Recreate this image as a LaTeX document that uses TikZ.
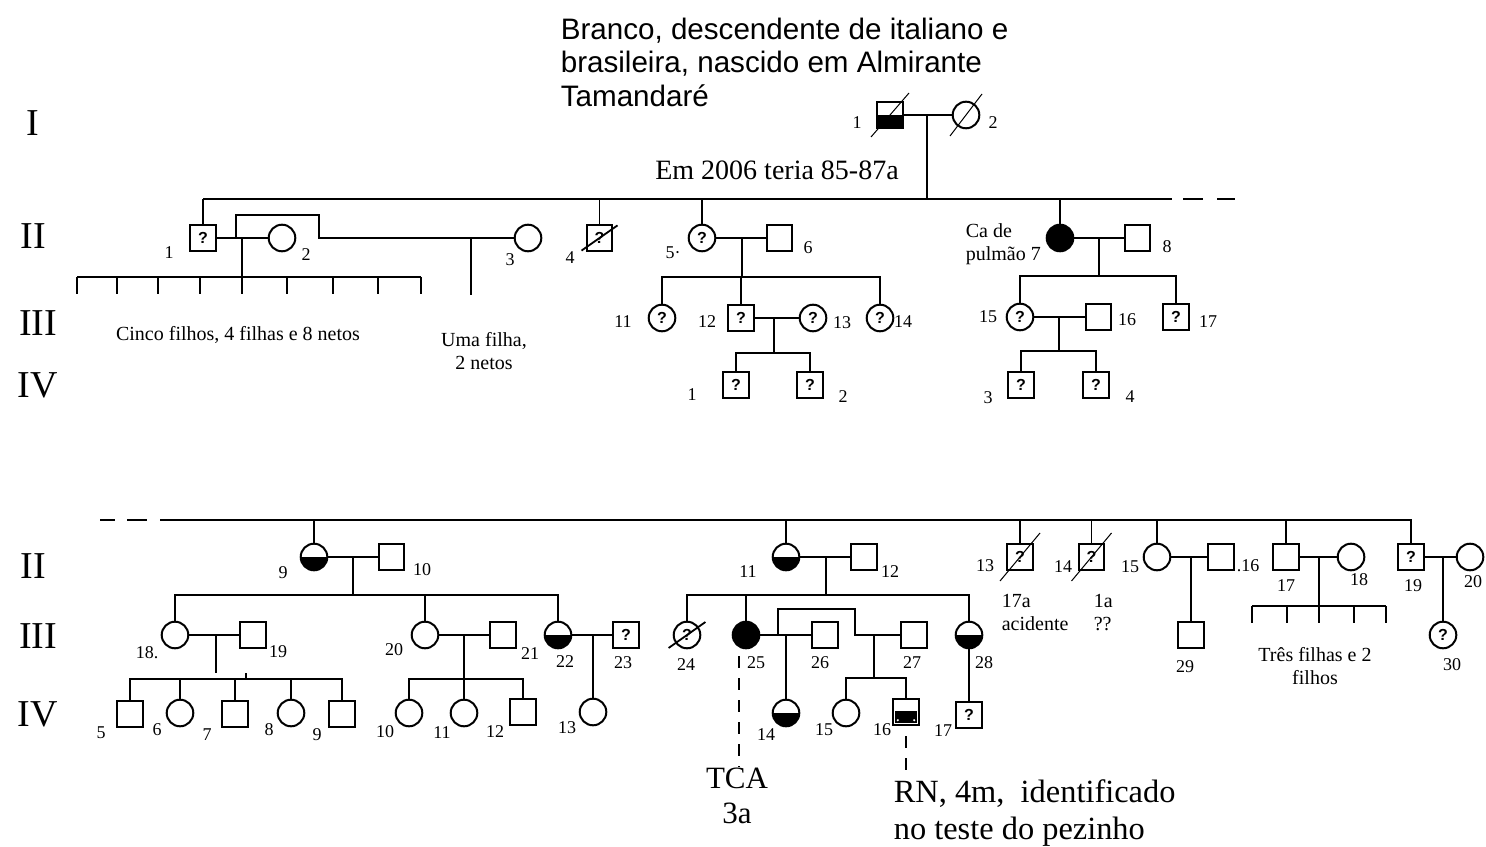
\documentclass[tikz,border=0pt]{standalone}
\usepackage{fontspec}
\setmainfont{Liberation Serif}
\newfontfamily\arialfont{Liberation Sans}
\usetikzlibrary{positioning}

\newcommand{\numfont}{\fontsize{9}{10}\selectfont}
\newcommand{\notefont}{\fontsize{10}{11.5}\selectfont}
\newcommand{\genfont}{\fontsize{19}{21}\selectfont}
\newcommand{\bigfont}{\fontsize{15.5}{17.5}\selectfont}
\newcommand{\titlefont}{\arialfont\fontsize{14.8}{17}\selectfont}
\newcommand{\qmark}{{\arialfont\bfseries\fontsize{8}{8}\selectfont ?}}
% traco de falecido: [espessura]{dx}{dy}{no}
\newcommand{\deceased}[4][line width=0.5pt]{%
  \draw[#1] ([shift={(-#2,-#3)}]#4.center) -- ([shift={(#2,#3)}]#4.center);}

\tikzset{
  male/.style={draw, rectangle, minimum size=12.8pt, inner sep=0pt, line width=1pt},
  female/.style={draw, circle, minimum size=13.3pt, inner sep=0pt, line width=1pt},
  affected/.style={fill=black},
  carrier/.style={path picture={\fill (path picture bounding box.west)
      rectangle (path picture bounding box.south east);}},
  striped/.style={path picture={
      \fill ([shift={(1pt,1pt)}]path picture bounding box.south west)
        rectangle ([shift={(-1pt,0.5pt)}]path picture bounding box.east);
      \fill[white] ([shift={(2.3pt,2.3pt)}]path picture bounding box.south west) circle (0.6pt);
      \fill[white] ([shift={(-2.3pt,2.3pt)}]path picture bounding box.south east) circle (0.6pt);}},
  num/.style={font=\numfont, inner sep=0pt},
  note/.style={font=\notefont, inner sep=0pt, align=center},
  gen/.style={font=\genfont, inner sep=0pt},
  dashline/.style={dash pattern=on 6pt off 5pt}
}

\begin{document}
\begin{tikzpicture}[x=0.5pt, y=-0.5pt, line width=0.8pt]

  \fill[white] (0,0) rectangle (1486,844);

  % Geracoes
  \node[gen] (gI) at (33,123) {I};
  \node[gen] (gII) at (33,236) {II};
  \node[gen] (gIII) at (38,323) {III};
  \node[gen] (gIV) at (38,385) {IV};
  \node[gen] (hII) at (33,566) {II};
  \node[gen] (hIII) at (38,636) {III};
  \node[gen] (hIV) at (38,714) {IV};

  % Texto sobre o probando
  \node[font=\titlefont, inner sep=0pt, anchor=base west] (t1) at (560,40) {Branco, descendente de italiano e};
  \node[font=\titlefont, inner sep=0pt, anchor=base west] (t2) at (560,73) {brasileira, nascido em Almirante};
  \node[font=\titlefont, inner sep=0pt, anchor=base west] (t3) at (560,107) {Tamandaré};
  \node[font=\fontsize{14}{15}\selectfont, inner sep=0pt, anchor=base] (age) at (777,180) {Em 2006 teria 85-87a};

  % ---- Geracao I ----
  \node[male, carrier] (I1) at (890,115) {};
  \node[female] (I2) at (966,115) {};
  \deceased{9.5pt}{11pt}{I1}
  \deceased{8pt}{10.5pt}{I2}
  \node[num] (lI1) at (857,123) {1};
  \node[num] (lI2) at (993,123) {2};
  \coordinate (mI) at (927,115);
  \coordinate (sibII) at (927,199);
  \draw (I1) -- (I2);
  \draw (mI) -- (sibII);

  % ---- Geracao II (parte de cima) ----
  \coordinate (sibIIl) at (203,199);
  \coordinate (sibIIr) at (1172,199);
  \coordinate (sibIIe) at (1236,199);
  \draw (sibIIl) -- (sibIIr);
  \draw[dash pattern=on 0pt off 5.5pt on 10pt off 7pt on 9pt off 20pt] (sibIIr) -- (sibIIe);

  \node[male] (II1) at (203,238) {\qmark};
  \node[female] (II2) at (282,238) {};
  \node[female] (II3) at (528,238) {};
  \node[male] (II4) at (599.5,238) {\qmark};
  \deceased[line width=0.9pt]{9pt}{6.3pt}{II4}
  \node[female] (II5) at (702,238) {\qmark};
  \node[male] (II6) at (779.5,238) {};
  \node[female, affected] (II7) at (1060,238) {};
  \node[male] (II8) at (1137.5,238) {};

  \node[num] (lII1) at (169,253) {1};
  \node[num] (lII2) at (306,255) {2};
  \node[num] (lII3) at (510,260) {3};
  \node[num] (lII4) at (570,258) {4};
  \node[num] (lII5) at (673,253) {5·};
  \node[num] (lII6) at (808,248) {6};
  \node[note, align=left, anchor=north west] (lII7) at (965,223) {Ca de\\pulmão 7};
  \node[num] (lII8) at (1167,247) {8};

  \foreach \n in {II1,II4,II5,II7}
    \draw (\n) -- (\n |- sibII);

  % II-1: dois casamentos
  \draw (II1) -- (II2);
  \coordinate (bkA) at (236,238);
  \coordinate (bkB) at (319,215);
  \draw (bkA) |- (bkB) |- (II3);
  \coordinate (mII12) at (242,238);
  \coordinate (sibA) at (242,277);
  \draw (mII12) -- (sibA);
  \coordinate (kidsAl) at (77,277);
  \coordinate (kidsAr) at (421,277);
  \draw (kidsAl) -- (kidsAr);
  \foreach \x in {77,117,158,200,242,287,333,378,421}
    \draw (\x,277) -- (\x,294);
  \node[note] (kidsA) at (238,335) {Cinco filhos, 4 filhas e 8 netos};
  \coordinate (mII13) at (471,238);
  \coordinate (kII13) at (471,295);
  \draw (mII13) -- (kII13);
  \node[note] (kidsB) at (484,351) {Uma filha,\\2 netos};

  % II-5 x II-6
  \draw (II5) -- (II6);
  \coordinate (mII56) at (742,238);
  \coordinate (sibB) at (742,277);
  \draw (mII56) -- (sibB);
  \node[female] (III11) at (662,318) {\qmark};
  \node[male] (III12) at (741,318) {\qmark};
  \node[female] (III13) at (813,318) {\qmark};
  \node[female] (III14) at (880,318) {\qmark};
  \node[num] (lIII11) at (623,322) {11};
  \node[num] (lIII12) at (707,322) {12};
  \node[num] (lIII13) at (842,323) {13};
  \node[num] (lIII14) at (903,322) {14};
  \draw (III11) |- (sibB) -| (III14);
  \draw (III12) -- (III12 |- sibB);
  \draw (III12) -- (III13);
  \coordinate (mIII1213) at (774,318);
  \coordinate (sibC) at (774,353);
  \draw (mIII1213) -- (sibC);
  \node[male] (IVa1) at (736,385) {\qmark};
  \node[male] (IVa2) at (810,385) {\qmark};
  \node[num] (lIVa1) at (692,395) {1};
  \node[num] (lIVa2) at (843,397) {2};
  \draw (IVa1) |- (sibC) -| (IVa2);

  % II-7 x II-8
  \draw (II7) -- (II8);
  \coordinate (mII78) at (1099,238);
  \coordinate (sibD) at (1099,276);
  \draw (mII78) -- (sibD);
  \node[female] (III15) at (1020,317) {\qmark};
  \node[male] (III16) at (1098.5,317) {};
  \node[male] (III17) at (1176,317) {\qmark};
  \node[num] (lIII15) at (988,317) {15};
  \node[num] (lIII16) at (1127,320) {16};
  \node[num] (lIII17) at (1208,322) {17};
  \draw (III15) |- (sibD) -| (III17);
  \draw (III15) -- (III16);
  \coordinate (mIII1516) at (1059,317);
  \coordinate (sibE) at (1059,351);
  \draw (mIII1516) -- (sibE);
  \node[male] (IVa3) at (1021,385) {\qmark};
  \node[male] (IVa4) at (1096,385) {\qmark};
  \node[num] (lIVa3) at (988,398) {3};
  \node[num] (lIVa4) at (1130,397) {4};
  \draw (IVa3) |- (sibE) -| (IVa4);

  % ---- Geracao II (continuacao) ----
  \coordinate (bsibL) at (100,520);
  \coordinate (bsibS) at (160,520);
  \draw[dash pattern=on 7.5pt off 6pt on 10pt off 6.5pt] (bsibL) -- (bsibS);

  \node[female, carrier] (IIb9) at (314,557) {};
  \node[male] (IIb10) at (391.5,557) {};
  \node[female, carrier] (IIb11) at (786,557) {};
  \node[male] (IIb12) at (864,557) {};
  \node[male] (IIb13) at (1020,557) {\qmark};
  \deceased{10pt}{12pt}{IIb13}
  \node[male] (IIb14) at (1091.5,557) {\qmark};
  \deceased{10pt}{12pt}{IIb14}
  \node[female] (IIb15) at (1157,557) {};
  \node[male] (IIb16) at (1221,557) {};
  \node[male] (IIb17) at (1286,557) {};
  \node[female] (IIb18) at (1351,557) {};
  \node[male] (IIb19) at (1411,557) {\qmark};
  \node[female] (IIb20) at (1470,557) {};

  \node[num] (lIIb9) at (283,573) {9};
  \node[num] (lIIb10) at (422,570) {10};
  \node[num] (lIIb11) at (748,572) {11};
  \node[num] (lIIb12) at (890,572) {12};
  \node[num] (lIIb13) at (985,566) {13};
  \node[num] (lIIb14) at (1063,567) {14};
  \node[num] (lIIb15) at (1130,567) {15};
  \node[num] (lIIb16) at (1248,566) {.16};
  \node[num] (lIIb17) at (1286,586) {17};
  \node[num] (lIIb18) at (1359,580) {18};
  \node[num] (lIIb19) at (1413,586) {19};
  \node[num] (lIIb20) at (1473,582) {20};
  \node[note, align=left, anchor=north west] (nIIb13) at (1001,593) {17a\\acidente};
  \node[note, align=left, anchor=north west] (nIIb14) at (1093,593) {1a\\??};

  \draw (bsibS) -| (IIb19);
  \foreach \n in {IIb9,IIb11,IIb13,IIb14,IIb15,IIb17}
    \draw (\n) -- (\n |- bsibS);

  % II-9 x II-10
  \draw (IIb9) -- (IIb10);
  \coordinate (mb910) at (353,557);
  \coordinate (sibF) at (353,595);
  \draw (mb910) -- (sibF);
  \node[female] (IIIb18) at (175,635) {};
  \node[male] (IIIb19) at (253,635) {};
  \node[female] (IIIb20) at (425,635) {};
  \node[male] (IIIb21) at (503,635) {};
  \node[female, carrier] (IIIb22) at (558,635) {};
  \node[male] (IIIb23) at (626,635) {\qmark};
  \node[num] (lIIIb18) at (147,653) {18.};
  \node[num] (lIIIb19) at (278,652) {19};
  \node[num] (lIIIb20) at (394,650) {20};
  \node[num] (lIIIb21) at (530,654) {21};
  \node[num] (lIIIb22) at (565,662) {22};
  \node[num] (lIIIb23) at (623,663) {23};
  \draw (IIIb18) |- (sibF) -| (IIIb22);
  \draw (IIIb20) -- (IIIb20 |- sibF);

  % III-18 x III-19
  \draw (IIIb18) -- (IIIb19);
  \coordinate (mb1819) at (216,635);
  \coordinate (db1819) at (216,673);
  \draw (mb1819) -- (db1819);
  \coordinate (sibG) at (246,679);
  \draw (sibG) -- ++(0,-6);
  \node[male] (IVb5) at (130,714) {};
  \node[female] (IVb6) at (180,713) {};
  \node[male] (IVb7) at (235,714) {};
  \node[female] (IVb8) at (291,713) {};
  \node[male] (IVb9) at (342,714) {};
  \node[num] (lIVb5) at (101,733) {5};
  \node[num] (lIVb6) at (157,730) {6};
  \node[num] (lIVb7) at (207,735) {7};
  \node[num] (lIVb8) at (269,730) {8};
  \node[num] (lIVb9) at (317,735) {9};
  \draw (IVb5) |- (sibG) -| (IVb9);
  \foreach \n in {IVb6,IVb7,IVb8}
    \draw (\n) -- (\n |- sibG);

  % III-20 x III-21
  \draw (IIIb20) -- (IIIb21);
  \coordinate (mb2021) at (464,635);
  \coordinate (sibH) at (464,679);
  \draw (mb2021) -- (sibH);
  \node[female] (IVb10) at (409,713) {};
  \node[female] (IVb11) at (464,713) {};
  \node[male] (IVb12) at (523,712) {};
  \node[num] (lIVb10) at (385,732) {10};
  \node[num] (lIVb11) at (442,733) {11};
  \node[num] (lIVb12) at (495,732) {12};
  \draw (IVb10) |- (sibH) -| (IVb12);
  \draw (IVb11) -- (sibH);

  % III-22 x III-23
  \draw (IIIb22) -- (IIIb23);
  \coordinate (mb2223) at (593,635);
  \node[female] (IVb13) at (593,712) {};
  \node[num] (lIVb13) at (567,728) {13};
  \draw (mb2223) -- (IVb13);

  % II-11 x II-12
  \draw (IIb11) -- (IIb12);
  \coordinate (mb1112) at (826,557);
  \coordinate (sibI) at (826,595);
  \draw (mb1112) -- (sibI);
  \node[female] (IIIb24) at (687,635) {\qmark};
  \deceased[line width=0.9pt]{9.2pt}{6.5pt}{IIIb24}
  \node[female, affected] (IIIb25) at (746,635) {};
  \node[male] (IIIb26) at (825,635) {};
  \node[male] (IIIb27) at (914,635) {};
  \node[female, carrier] (IIIb28) at (969,635) {};
  \node[num] (lIIIb24) at (686,665) {24};
  \node[num] (lIIIb25) at (756,663) {25};
  \node[num] (lIIIb26) at (820,663) {26};
  \node[num] (lIIIb27) at (912,663) {27};
  \node[num] (lIIIb28) at (984,663) {28};
  \draw (IIIb24) |- (sibI) -| (IIIb28);
  \draw (IIIb25) -- (IIIb25 |- sibI);

  % III-25: dois casamentos
  \draw (IIIb25) -- (IIIb26);
  \coordinate (mb2526) at (786,635);
  \node[female, carrier] (IVb14) at (786,713) {};
  \node[num] (lIVb14) at (766,735) {14};
  \draw (mb2526) -- (IVb14);
  \coordinate (bkC) at (778,635);
  \coordinate (bkD) at (855,609);
  \draw (bkC) |- (bkD) |- (IIIb27);
  \coordinate (mb2527) at (874,635);
  \coordinate (sibJ) at (874,678);
  \draw (mb2527) -- (sibJ);
  \node[female] (IVb15) at (846,713) {};
  \node[male, striped] (IVb16) at (906,712) {};
  \node[num] (lIVb15) at (824,730) {15};
  \node[num] (lIVb16) at (882,730) {16};
  \draw (IVb15) |- (sibJ) -| (IVb16);

  % III-28 -> IV-17
  \node[male] (IVb17) at (969,715) {\qmark};
  \node[num] (lIVb17) at (943,731) {17};
  \draw (IIIb28) -- (IVb17);

  % notas de baixo
  \node[font=\bigfont, align=center, inner sep=0pt, anchor=north] (TCA) at (737,767) {TCA\\3a};
  \coordinate (tcaTop) at (739,656);
  \draw[dashline] (tcaTop) -- (tcaTop |- TCA.north);
  \node[font=\fontsize{16.2}{18.5}\selectfont, align=left, inner sep=0pt, anchor=north west] (RN) at (893,779)
    {RN, 4m, \ identificado\\no teste do pezinho};
  \coordinate (rnTop) at (906,736);
  \draw[dashline] (rnTop) -- (rnTop |- RN.north);

  % II-15 x II-16
  \draw (IIb15) -- (IIb16);
  \coordinate (mb1516) at (1191,557);
  \node[male] (IIIb29) at (1191,635) {};
  \node[num] (lIIIb29) at (1185,667) {29};
  \draw (mb1516) -- (IIIb29);

  % II-17 x II-18
  \draw (IIb17) -- (IIb18);
  \coordinate (mb1718) at (1319,557);
  \coordinate (sibK) at (1319,606);
  \draw (mb1718) -- (sibK);
  \coordinate (kidsCl) at (1252,606);
  \coordinate (kidsCr) at (1386,606);
  \draw (kidsCl) -- (kidsCr);
  \foreach \x in {1252,1287,1319,1354,1386}
    \draw (\x,606) -- (\x,623);
  \node[note] (kidsC) at (1315,666) {Três filhas e 2\\filhos};

  % II-19 x II-20
  \draw (IIb19) -- (IIb20);
  \coordinate (mb1920) at (1443,557);
  \node[female] (IIIb30) at (1443,635) {\qmark};
  \node[num] (lIIIb30) at (1452,665) {30};
  \draw (mb1920) -- (IIIb30);

\end{tikzpicture}
\end{document}
